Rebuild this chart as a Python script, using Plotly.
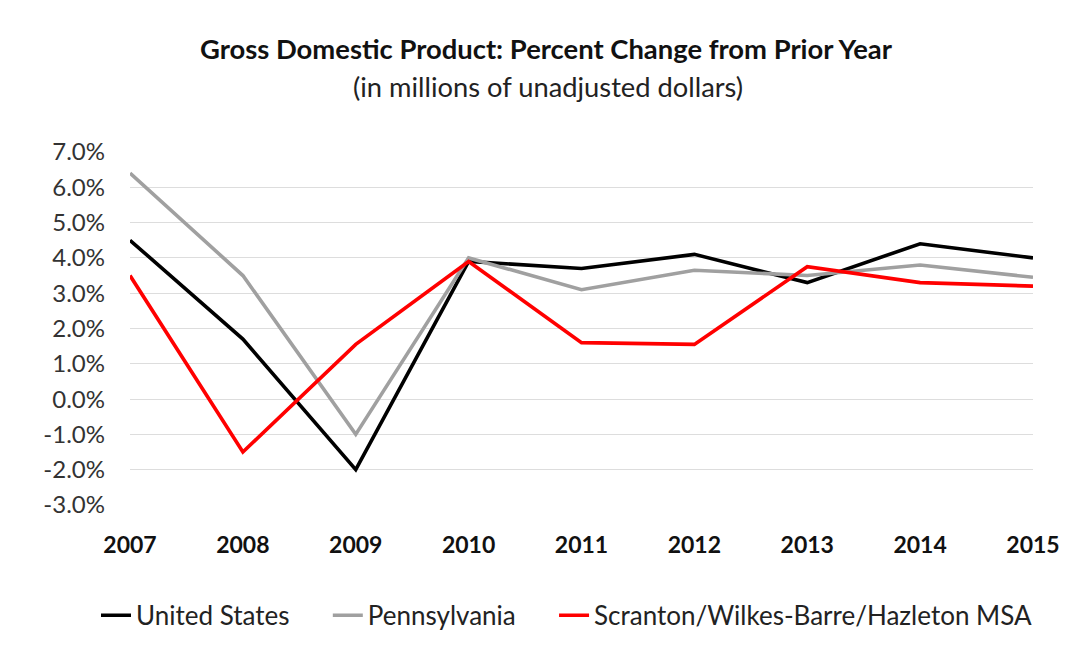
import plotly.graph_objects as go

years = [2007, 2008, 2009, 2010, 2011, 2012, 2013, 2014, 2015]
united_states = [4.5, 1.7, -2.0, 3.9, 3.7, 4.1, 3.3, 4.4, 4.0]
pennsylvania = [6.4, 3.5, -1.0, 4.0, 3.1, 3.65, 3.5, 3.8, 3.45]
scranton_msa = [3.5, -1.5, 1.55, 3.9, 1.6, 1.55, 3.75, 3.3, 3.2]

y_ticks = [-3, -2, -1, 0, 1, 2, 3, 4, 5, 6, 7]
y_tick_labels = [f"{v:.1f}%" for v in y_ticks]

FONT = "Lato"
W, H = 1075, 651
ML, MR, MT, MB = 130, 42, 152, 144
plot_w = W - ML - MR
plot_h = H - MT - MB

# extra spacing after each legend entry, as non-breaking spaces
PAD = "\u00a0" * 5

fig = go.Figure()
series = [
    ("United States" + PAD, united_states, "#000000"),
    ("Pennsylvania" + PAD, pennsylvania, "#a0a0a0"),
    ("Scranton/Wilkes-Barre/Hazleton MSA", scranton_msa, "#ff0000"),
]
for name, vals, color in series:
    fig.add_trace(go.Scatter(
        x=years, y=vals, name=name, mode="lines",
        line=dict(color=color, width=3.6),
    ))

fig.update_layout(
    width=W, height=H,
    paper_bgcolor="white", plot_bgcolor="white",
    margin=dict(l=ML, r=MR, t=MT, b=MB),
    font=dict(family=FONT, color="#333333", size=18),
    showlegend=True,
    legend=dict(
        orientation="h", x=(96 - ML) / plot_w, xanchor="left",
        y=(MB - (H - 618)) / -plot_h, yanchor="middle",
        font=dict(family=FONT, size=26, color="#222222"),
        itemwidth=30,
    ),
)


def px_to_paper(px_x, px_y):
    return (px_x - ML) / plot_w, (H - MB - px_y) / plot_h


tx, ty = px_to_paper(546, 48)
fig.add_annotation(
    text="<b>Gross Domestic Product: Percent Change from Prior Year</b>",
    x=tx, y=ty, xref="paper", yref="paper", showarrow=False, yanchor="middle",
    font=dict(family=FONT, size=27.4, color="#111111"),
)
sx, sy = px_to_paper(548, 86)
fig.add_annotation(
    text="(in millions of unadjusted dollars)",
    x=sx, y=sy, xref="paper", yref="paper", showarrow=False, yanchor="middle",
    font=dict(family=FONT, size=27.3, color="#222222"),
)

fig.update_xaxes(
    range=[2007, 2015], tickmode="array", tickvals=years,
    ticktext=[f"<b>{y}</b>" for y in years],
    showgrid=False, zeroline=False, showline=False,
    tickfont=dict(family=FONT, size=23, color="#111111"),
    ticks="", ticklabelstandoff=24,
)
fig.update_yaxes(
    range=[-3, 7], tickmode="array", tickvals=y_ticks, ticktext=y_tick_labels,
    showgrid=True, gridcolor="#dddddd", gridwidth=1,
    zeroline=False, showline=False, ticks="",
    tickfont=dict(family=FONT, size=24, color="#333333"),
    ticklabelstandoff=24,
)

fig.write_html("out.html")
